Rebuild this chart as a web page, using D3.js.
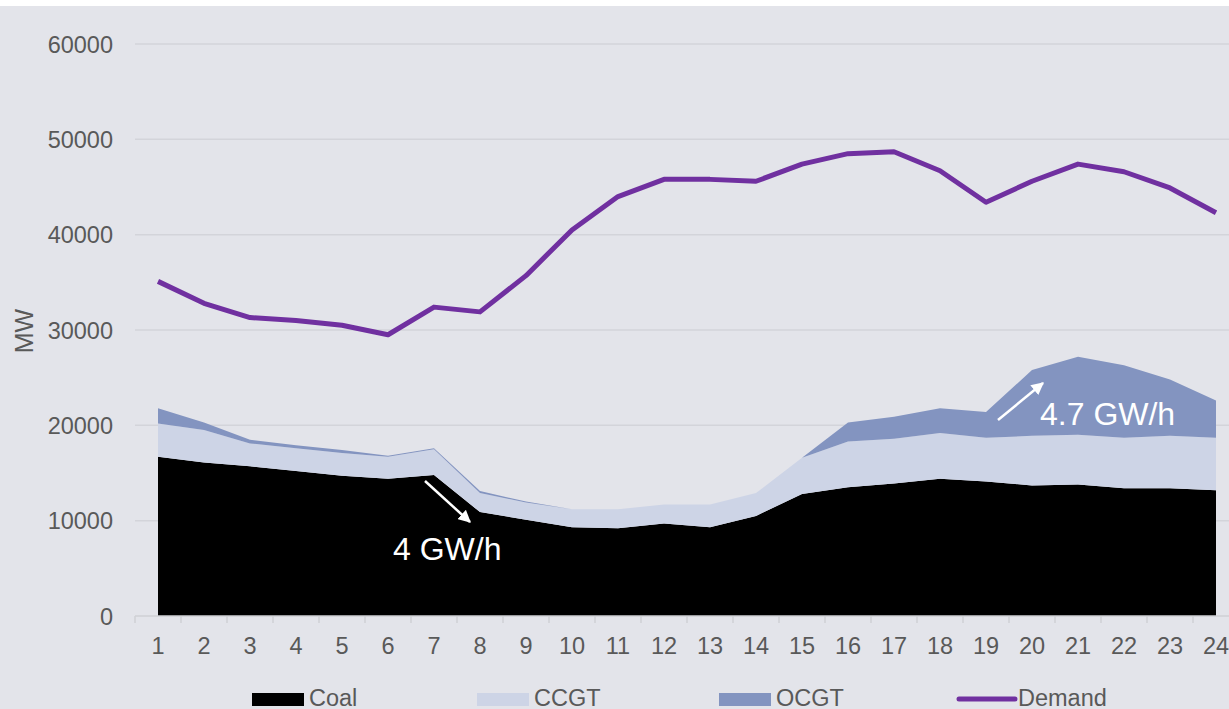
<!DOCTYPE html>
<html>
<head>
<meta charset="utf-8">
<script src="https://cdn.jsdelivr.net/npm/d3@7"></script>
<style>
  html, body { margin: 0; padding: 0; background: #fff; overflow: hidden; }
  #chart text { font-family: "Liberation Sans", Arial, sans-serif; }
</style>
</head>
<body>
<div id="chart"></div>
<script>
// hours of the day
var hours = d3.range(1, 25);
// generation by type, MW
var coal = [16700, 16100, 15700, 15200, 14700, 14400, 14800, 10900, 10100, 9300, 9200, 9700,
  9300, 10500, 12800, 13500, 13900, 14400, 14100, 13700, 13800, 13400, 13400, 13200];
var ccgt = [3500, 3400, 2400, 2400, 2400, 2300, 2700, 2000, 1800, 1900, 2000, 2000,
  2400, 2400, 3800, 4800, 4700, 4800, 4600, 5200, 5200, 5300, 5500, 5500];
var ocgt = [1600, 800, 400, 300, 300, 100, 100, 200, 100, 0, 0, 0,
  0, 0, 0, 2000, 2300, 2600, 2700, 6900, 8200, 7600, 5900, 3900];
var demand = [35100, 32800, 31300, 31000, 30500, 29500, 32400, 31900, 35700, 40500, 44000, 45800,
  45800, 45600, 47400, 48500, 48700, 46700, 43400, 45600, 47400, 46600, 44900, 42300];
var yTicks = [0, 10000, 20000, 30000, 40000, 50000, 60000];
var seriesNames = ['Coal', 'CCGT', 'OCGT'];
var colors = { Coal: '#000000', CCGT: '#cdd4e6', OCGT: '#8394c0', Demand: '#7030a0' };

var W = 1229, H = 709;
var FS = 23.5;
var svg = d3.select('#chart').append('svg').attr('width', W).attr('height', H);

svg.append('rect').attr('x', 0).attr('y', 6).attr('width', W).attr('height', H - 6).attr('fill', '#e3e4ea');

var x = d3.scaleBand().domain(hours).range([135, 1239]).padding(0);
var cx = function(h) { return x(h) + x.bandwidth() / 2; };
var y = d3.scaleLinear().domain([0, 60000]).range([616, 44]);

// grid
svg.append('g')
  .selectAll('line')
  .data(yTicks.slice(1))
  .enter()
  .append('line')
  .attr('x1', 135).attr('x2', W)
  .attr('y1', d => y(d)).attr('y2', d => y(d))
  .attr('stroke', '#d3d4da').attr('stroke-width', 1.5);

// y axis labels
svg.append('g')
  .selectAll('text')
  .data(yTicks)
  .enter()
  .append('text')
  .attr('x', 113)
  .attr('y', d => y(d) + 8.5)
  .attr('text-anchor', 'end')
  .attr('font-size', FS)
  .attr('fill', '#595959')
  .text(d => d);

svg.append('text')
  .attr('transform', 'translate(33,331) rotate(-90)')
  .attr('text-anchor', 'middle')
  .attr('font-size', 25)
  .attr('fill', '#595959')
  .text('MW');

// stacked areas
var rows = hours.map((h, i) => ({ hour: h, Coal: coal[i], CCGT: ccgt[i], OCGT: ocgt[i] }));
var stack = d3.stack().keys(seriesNames)(rows);
var area = d3.area()
  .x(d => cx(d.data.hour))
  .y0(d => y(d[0]))
  .y1(d => y(d[1]));

svg.append('g')
  .selectAll('path')
  .data(stack)
  .enter()
  .append('path')
  .attr('d', area)
  .attr('fill', d => colors[d.key]);

// x axis
svg.append('line')
  .attr('x1', 135).attr('x2', W)
  .attr('y1', y(0)).attr('y2', y(0))
  .attr('stroke', '#cfd0d5').attr('stroke-width', 1.5);

svg.append('g')
  .selectAll('line')
  .data(hours)
  .enter()
  .append('line')
  .attr('x1', d => x(d)).attr('x2', d => x(d))
  .attr('y1', y(0)).attr('y2', y(0) + 7)
  .attr('stroke', '#cfd0d5').attr('stroke-width', 1.5);

svg.append('g')
  .selectAll('text')
  .data(hours)
  .enter()
  .append('text')
  .attr('x', d => cx(d))
  .attr('y', 654)
  .attr('text-anchor', 'middle')
  .attr('font-size', FS)
  .attr('fill', '#595959')
  .text(d => d);

// demand line
var line = d3.line()
  .x((d, i) => cx(hours[i]))
  .y(d => y(d));

svg.append('path')
  .datum(demand)
  .attr('d', line)
  .attr('fill', 'none')
  .attr('stroke', colors.Demand)
  .attr('stroke-width', 5)
  .attr('stroke-linejoin', 'round');

// annotations
var defs = svg.append('defs');
defs.append('marker')
  .attr('id', 'arrow')
  .attr('viewBox', '0 0 10 10')
  .attr('refX', 9).attr('refY', 5)
  .attr('markerWidth', 5).attr('markerHeight', 5)
  .attr('orient', 'auto')
  .append('path')
  .attr('d', 'M0,0 L10,5 L0,10 z')
  .attr('fill', '#fff');

function arrow(x1, y1, x2, y2) {
  svg.append('line')
    .attr('x1', x1).attr('y1', y1).attr('x2', x2).attr('y2', y2)
    .attr('stroke', '#fff').attr('stroke-width', 2.5)
    .attr('marker-end', 'url(#arrow)');
}
arrow(425, 481, 470, 522);
arrow(998, 420, 1043, 383);

svg.append('text').attr('x', 393).attr('y', 560)
  .attr('font-size', 32).attr('fill', '#fff').text('4 GW/h');
svg.append('text').attr('x', 1040).attr('y', 425)
  .attr('font-size', 32).attr('fill', '#fff').text('4.7 GW/h');

// legend
var legend = [
  { name: 'Coal', x: 252, type: 'rect' },
  { name: 'CCGT', x: 477, type: 'rect' },
  { name: 'OCGT', x: 719, type: 'rect' },
  { name: 'Demand', x: 959, type: 'line' }
];
var lg = svg.append('g').selectAll('g').data(legend).enter().append('g');
lg.filter(d => d.type === 'rect')
  .append('rect')
  .attr('x', d => d.x).attr('y', 693)
  .attr('width', 52).attr('height', 13)
  .attr('fill', d => colors[d.name]);
lg.filter(d => d.type === 'line')
  .append('line')
  .attr('x1', d => d.x).attr('x2', d => d.x + 56)
  .attr('y1', 699).attr('y2', 699)
  .attr('stroke', colors.Demand).attr('stroke-width', 5)
  .attr('stroke-linecap', 'round');
lg.append('text')
  .attr('x', d => d.x + (d.type === 'line' ? 59 : 57))
  .attr('y', 706)
  .attr('font-size', FS)
  .attr('fill', '#595959')
  .text(d => d.name);
</script>
</body>
</html>
